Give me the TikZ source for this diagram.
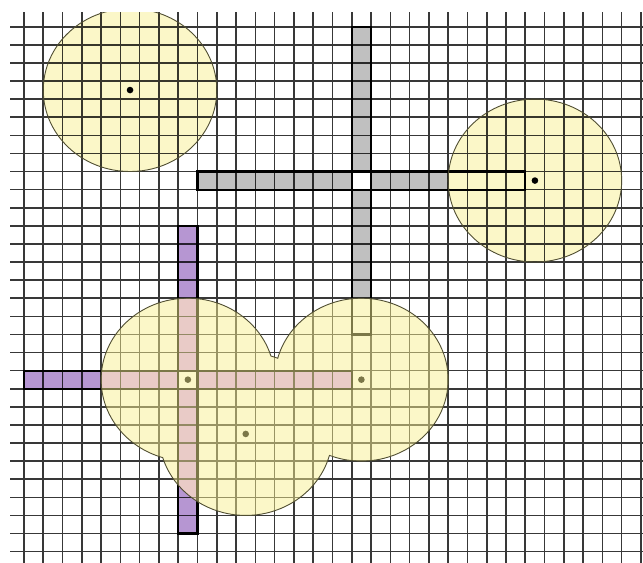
\documentclass[tikz,border=0pt]{standalone}
\usepackage{tikz}
\definecolor{cellyellow}{RGB}{251,247,200}
\definecolor{blobcol}{RGB}{247,239,145}
\definecolor{grayfill}{RGB}{192,192,192}
\definecolor{purplefill}{RGB}{182,150,210}
\definecolor{pinkbase}{RGB}{219,167,255}
\definecolor{ringcol}{RGB}{80,78,50}
\newcommand{\blobpath}{(4,19.5) arc[start angle=180, end angle=343.13, radius=4.5]
  arc[start angle=286.87, end angle=291.63, radius=4.5]
  arc[start angle=195.24, end angle=471.63, radius=4.5]
  arc[start angle=15.24, end angle=163.13, radius=4.5]
  arc[start angle=106.87, end angle=180, radius=4.5] -- cycle}
\newcommand{\purplerects}{(8,11) rectangle (9,19) (8,20) rectangle (9,28) (0,19) rectangle (8,20) (9,19) rectangle (17,20)}
\begin{document}
\begin{tikzpicture}[x=19.28pt,y=-18.1pt,
  gridline/.style={line width=1.6pt, draw=black, draw opacity=0.78},
  crossline/.style={line width=2.2pt, draw=black},
  ring/.style={line width=0.9pt, draw=ringcol},
  centredot/.style={fill=black}]
\useasboundingbox (-1.245,-1.475) rectangle (32.106,29.575);
\begin{scope}
\clip (-0.726,-0.757) rectangle (32.4,29.9);
% gray cross cells
\fill[grayfill] (17,0) rectangle (18,8);
\fill[grayfill] (17,9) rectangle (18,15.02);
\fill[grayfill] (9,8) rectangle (17,9);
\fill[grayfill] (18,8) rectangle (26,9);
% purple cross cells
\fill[purplefill] \purplerects;
\begin{scope}
\clip \blobpath;
\fill[pinkbase] \purplerects;
\end{scope}
% opaque circles
\fill[cellyellow] (5.5,3.5) circle[radius=4.5];
\fill[cellyellow] (26.5,8.5) circle[radius=4.5];
% grid
\draw[gridline] foreach \i in {0,...,32} {(\i,-0.9) -- (\i,29.9)}
                foreach \j in {0,...,29} {(-0.9,\j) -- (32.4,\j)};
% cross outlines
\draw[crossline] (17,0) rectangle (18,17);
\draw[crossline] (9,8) rectangle (26,9);
\draw[crossline] (8,11) rectangle (9,28);
\draw[crossline] (0,19) rectangle (17,20);
% circle outlines and centres
\draw[ring] (5.5,3.5) circle[radius=4.5];
\draw[ring] (26.5,8.5) circle[radius=4.5];
\fill[centredot] (5.5,3.5) circle[radius=3.3pt];
\fill[centredot] (26.5,8.5) circle[radius=3.3pt];
% centres under the blob
\fill[centredot] (8.5,19.5) circle[radius=3.3pt];
\fill[centredot] (17.5,19.5) circle[radius=3.3pt];
\fill[centredot] (11.5,22.5) circle[radius=3.3pt];
% blob
\fill[blobcol, fill opacity=0.5] \blobpath;
\draw[ring] \blobpath;
\end{scope}
\end{tikzpicture}
\end{document}
